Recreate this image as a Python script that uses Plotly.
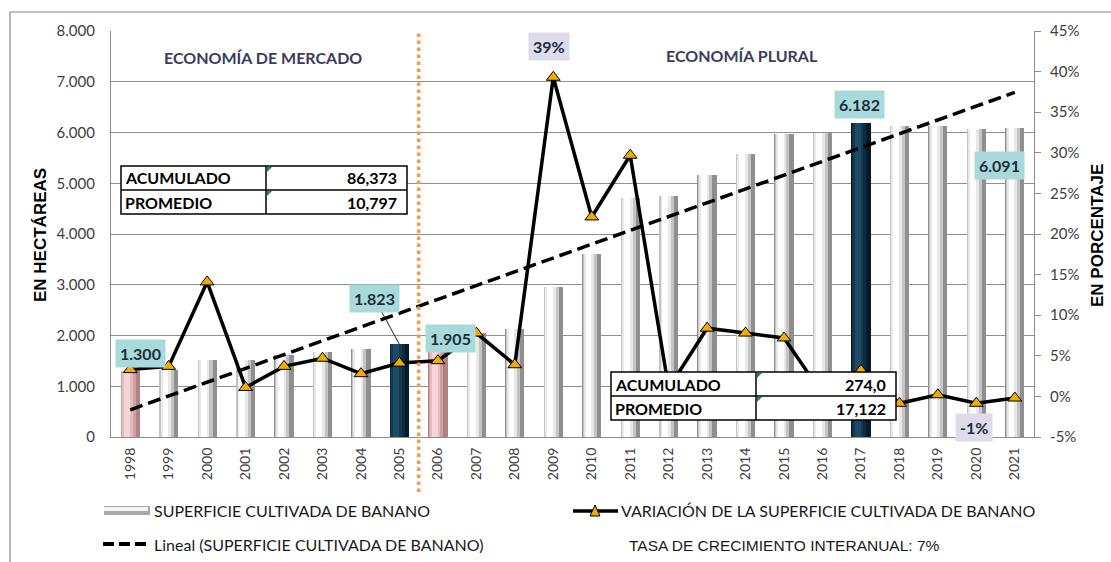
import numpy as np
import plotly.graph_objects as go

# ---------------- data ----------------
years = ["1998", "1999", "2000", "2001", "2002", "2003", "2004", "2005",
         "2006", "2007", "2008", "2009", "2010", "2011", "2012", "2013",
         "2014", "2015", "2016", "2017", "2018", "2019", "2020", "2021"]
hectares = [1300, 1330, 1520, 1520, 1610, 1680, 1730, 1823,
            1905, 2050, 2130, 2960, 3610, 4700, 4740, 5170,
            5580, 5980, 5990, 6182, 6120, 6130, 6075, 6091]
variation_pct = [3.3, 3.7, 14.1, 1.1, 3.7, 4.7, 2.8, 4.1,
                 4.4, 7.8, 3.9, 39.3, 22.1, 29.7, 1.0, 8.4,
                 7.8, 7.2, 0.3, 3.2, -0.85, 0.2, -0.85, -0.2]
pink_years = ["1998", "2006"]
dark_years = ["2005", "2017"]
hect_ticks = [0, 1000, 2000, 3000, 4000, 5000, 6000, 7000, 8000]
hect_ticktext = ["0", "1.000", "2.000", "3.000", "4.000", "5.000", "6.000", "7.000", "8.000"]
pct_ticks = [-5, 0, 5, 10, 15, 20, 25, 30, 35, 40, 45]
pct_ticktext = ["-5%", "0%", "5%", "10%", "15%", "20%", "25%", "30%", "35%", "40%", "45%"]

bar_labels = [("1998", "1.300"), ("2005", "1.823"), ("2006", "1.905"),
              ("2017", "6.182"), ("2021", "6.091")]
pct_labels = [("2009", "39%"), ("2020", "-1%")]
table1 = [("ACUMULADO", "86,373"), ("PROMEDIO", "10,797")]
table2 = [("ACUMULADO", "274,0"), ("PROMEDIO", "17,122")]

# ---------------- geometry helpers ----------------
W, H = 1111, 562
ML, MR, MT, MB = 111, 77, 31, 125
PW, PH = W - ML - MR, H - MT - MB


def px(xp):
    return (xp - ML) / PW


def py(yp):
    return (H - MB - yp) / PH


CAL = "Lato, Carlito, Calibri, sans-serif"
ARIAL = "Liberation Sans, Arial, sans-serif"


def pick(y, white, pink, dark):
    if y in pink_years:
        return pink
    if y in dark_years:
        return dark
    return white


fig = go.Figure()

# cylinder-like bars: overlaid layers of the same data
layers = [
    (0.50, -0.25, ("#8f8f8f", "#b08286", "#051b28")),
    (0.38, -0.24, ("#c4c4c4", "#cf9fa3", "#0b2d42")),
    (0.27, -0.21, ("#e8e8e8", "#e6bcbf", "#133a52")),
    (0.15, -0.16, ("#ffffff", "#f5d6d8", "#1e4a64")),
]
for i, (w, off, cols) in enumerate(layers):
    fig.add_trace(go.Bar(
        x=years, y=hectares, width=w, offset=off,
        marker=dict(color=[pick(y, *cols) for y in years], line=dict(width=0)),
        name="SUPERFICIE CULTIVADA DE BANANO", showlegend=False,
        hoverinfo="skip" if i else "x+y",
    ))

# linear trend (least squares on the bar data, like Excel's "Lineal")
idx = np.arange(len(hectares))
slope, intercept = np.polyfit(idx, hectares, 1)
trend = slope * idx + intercept
fig.add_trace(go.Scatter(
    x=years, y=trend, mode="lines",
    line=dict(color="black", width=3.5, dash="13px,6px"),
    name="Lineal (SUPERFICIE CULTIVADA DE BANANO)", showlegend=False,
))

# variation line on secondary axis
fig.add_trace(go.Scatter(
    x=years, y=variation_pct, mode="lines+markers", yaxis="y2",
    line=dict(color="black", width=3.5),
    marker=dict(symbol="triangle-up", size=12, color="#f2ac00",
                line=dict(color="black", width=1)),
    name="VARIACIÓN DE LA SUPERFICIE CULTIVADA DE BANANO", showlegend=False,
))

shapes = []
annotations = []


def note(text, x, y, font, xanchor="center", yanchor="middle", **kw):
    d = dict(text=text, xref="paper", yref="paper", x=x, y=y,
             xanchor=xanchor, yanchor=yanchor, showarrow=False, font=font)
    d.update(kw)
    annotations.append(d)


# outer frame
shapes.append(dict(type="rect", xref="paper", yref="paper",
                   x0=px(10), x1=px(1120), y0=py(575), y1=py(12),
                   line=dict(color="#8a8a8a", width=1.2), fillcolor="rgba(0,0,0,0)",
                   layer="below"))

# orange dotted separator between 2005 and 2006
shapes.append(dict(type="line", xref="x", yref="paper", x0=7.5, x1=7.5,
                   y0=py(492), y1=py(30),
                   line=dict(color="#f39c50", width=3.5, dash="dot"), layer="above"))

# titles
tfont = dict(family=CAL, size=16, color="#3d3b5c", weight="bold")
note("ECONOMÍA DE MERCADO", px(263), py(58), tfont)
note("ECONOMÍA PLURAL", px(742), py(56), tfont)

# data labels
label_font = dict(family=CAL, size=16, color="#1c2e3c", weight="bold")
bar_offsets = {"1998": (10, 18), "2005": (-25, 46), "2006": (13, 2),
               "2017": (-1, 19), "2021": (-15, -38)}
for yr, txt in bar_labels:
    i = years.index(yr)
    v = hectares[i]
    dx, dy = bar_offsets[yr]
    if yr == "2005":
        annotations.append(dict(text=txt, x=i, y=v, xref="x", yref="y",
                                showarrow=True, arrowhead=0, arrowwidth=1,
                                arrowcolor="#222", ax=dx, ay=-dy, standoff=0,
                                bgcolor="#a9dadb", borderpad=4, font=label_font))
    else:
        annotations.append(dict(text=txt, x=i, y=v, xref="x", yref="y",
                                xanchor="center", yanchor="middle",
                                showarrow=False, xshift=dx, yshift=dy,
                                bgcolor="#a9dadb", borderpad=4, font=label_font))
pct_offsets = {"2009": (-4, 31), "2020": (-2, -24)}
for yr, txt in pct_labels:
    i = years.index(yr)
    v = variation_pct[i]
    dx, dy = pct_offsets[yr]
    annotations.append(dict(text=txt, x=i, y=v, xref="x", yref="y2",
                            xanchor="center", yanchor="middle",
                            showarrow=False, xshift=dx, yshift=dy,
                            bgcolor="#dedbea", borderpad=4, font=label_font))


def add_table(rows, x0, xm, x1, y0, y1):
    ymid = (y0 + y1) / 2
    shapes.append(dict(type="rect", xref="paper", yref="paper",
                       x0=px(x0), x1=px(x1), y0=py(y1), y1=py(y0),
                       fillcolor="white", line=dict(color="black", width=1.5),
                       layer="above"))
    shapes.append(dict(type="line", xref="paper", yref="paper",
                       x0=px(x0), x1=px(x1), y0=py(ymid), y1=py(ymid),
                       line=dict(color="black", width=1.5), layer="above"))
    shapes.append(dict(type="line", xref="paper", yref="paper",
                       x0=px(xm), x1=px(xm), y0=py(y1), y1=py(y0),
                       line=dict(color="black", width=1.5), layer="above"))
    for yy in [y0, ymid]:
        shapes.append(dict(type="path", xref="paper", yref="paper",
                           path=f"M {px(xm+1)} {py(yy+1)} L {px(xm+6)} {py(yy+1)} L {px(xm+1)} {py(yy+6)} Z",
                           fillcolor="#1f8a3a", line=dict(width=0), layer="above"))
    tf = dict(family=CAL, size=16, color="black", weight="bold")
    for r, (lab, val) in enumerate(rows):
        yc = (y0 + ymid) / 2 if r == 0 else (ymid + y1) / 2
        note(lab, px(x0 + 2), py(yc), tf, xanchor="left")
        note(val, px(x1 - 8), py(yc), tf, xanchor="right")


add_table(table1, 121, 266, 407, 166, 214)
add_table(table2, 611, 756, 896, 372, 420)

# axis titles
afont = dict(family=ARIAL, size=17, color="black", weight="bold")
note("EN HECTÁREAS", px(40), py(235), afont, textangle=-90)
note("EN PORCENTAJE", px(1097), py(236), afont, textangle=-90)

# manual legend
leg_font = dict(family=CAL, size=16, color="#1a1a1a")
shapes.append(dict(type="rect", xref="paper", yref="paper",
                   x0=px(104), x1=px(150), y0=py(515), y1=py(506),
                   fillcolor="#a8a8a8", line=dict(width=0), layer="above"))
shapes.append(dict(type="rect", xref="paper", yref="paper",
                   x0=px(104), x1=px(148), y0=py(511), y1=py(507),
                   fillcolor="#f4f4f4", line=dict(width=0), layer="above"))
note("SUPERFICIE CULTIVADA DE BANANO", px(152), py(511), leg_font, xanchor="left")
shapes.append(dict(type="line", xref="paper", yref="paper",
                   x0=px(103), x1=px(150), y0=py(544), y1=py(544),
                   line=dict(color="black", width=4, dash="11px,5px"), layer="above"))
note("Lineal (SUPERFICIE CULTIVADA DE BANANO)", px(152), py(544), leg_font, xanchor="left")
shapes.append(dict(type="line", xref="paper", yref="paper",
                   x0=px(573), x1=px(618), y0=py(511), y1=py(511),
                   line=dict(color="black", width=3.5), layer="above"))
shapes.append(dict(type="path", xref="paper", yref="paper",
                   path=f"M {px(590)} {py(516)} L {px(600)} {py(516)} L {px(595)} {py(505)} Z",
                   fillcolor="#f2ac00", line=dict(color="black", width=1), layer="above"))
note("VARIACIÓN DE LA SUPERFICIE CULTIVADA DE BANANO", px(619), py(511), leg_font, xanchor="left")
note("TASA DE CRECIMIENTO INTERANUAL: 7%", px(627), py(545),
     dict(family=ARIAL, size=15.5, color="#1a1a1a"), xanchor="left")

fig.update_layout(
    width=W, height=H,
    margin=dict(l=ML, r=MR, t=MT, b=MB),
    paper_bgcolor="white", plot_bgcolor="white",
    barmode="overlay", bargap=0,
    showlegend=False,
    xaxis=dict(type="category", range=[-0.5, 23.5], tickangle=-90,
               showline=True, linecolor="#8c8c8c", linewidth=1.2,
               showgrid=False, ticks="", ticklabelstandoff=4,
               tickfont=dict(family=CAL, size=14, color="#404040")),
    yaxis=dict(range=[0, 8000], tickvals=hect_ticks, ticktext=hect_ticktext,
               showline=True, linecolor="#8c8c8c", linewidth=1.2,
               showgrid=True, gridcolor="#8f8f8f", gridwidth=1,
               zeroline=False, ticks="", ticklabelstandoff=12,
               tickfont=dict(family=CAL, size=15, color="#404040")),
    yaxis2=dict(range=[-5, 45], tickvals=pct_ticks, ticktext=pct_ticktext,
                overlaying="y", side="right", showgrid=False, zeroline=False,
                showline=True, linecolor="#8c8c8c", linewidth=1.2,
                ticks="outside", ticklen=6, tickcolor="#8c8c8c",
                ticklabelstandoff=6,
                tickfont=dict(family=CAL, size=15, color="#404040")),
    shapes=shapes, annotations=annotations,
)

fig.write_html("out.html", config={"displayModeBar": False},
               post_script="document.body.style.margin='0px';document.body.style.overflow='hidden';")
